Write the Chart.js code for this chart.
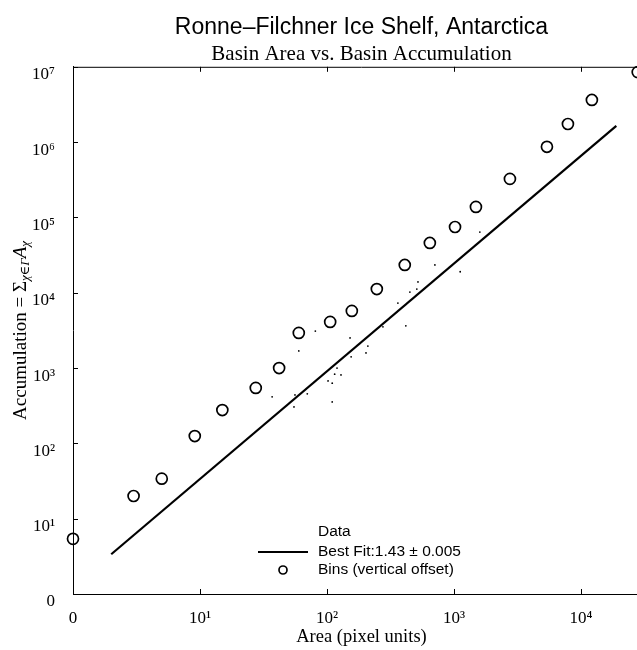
<!DOCTYPE html>
<html>
<head>
<meta charset="utf-8">
<script src="https://cdn.jsdelivr.net/npm/chart.js@4.4.1/dist/chart.umd.min.js"></script>
<style>
    html, body { margin: 0; padding: 0; background: #fff; overflow: hidden; }
    #wrap { width: 724px; height: 650px; }
</style>
</head>
<body>
<div id="wrap"><canvas id="chart" width="724" height="650"></canvas></div>
<script>
// Basin area vs. accumulation, Ronne-Filchner Ice Shelf
const binArea = [1, 3, 5, 9.1, 15, 27.5, 42, 60, 106, 157, 247, 410, 646, 1020, 1490, 2760, 5400, 7900, 12200, 28000];
const binAccum = [5.4, 20, 34, 125, 277, 545, 1000, 2930, 4100, 5740, 11200, 23400, 45800, 74600, 138000, 325000, 866000, 1740000, 3630000, 8500000];

const dataArea = [37, 55, 56, 60, 70, 81, 102, 110, 110, 115, 120, 129, 152, 155, 203, 210, 276, 362, 418, 450, 510, 521, 708, 1120, 1600];
const dataAccum = [415, 305, 440, 1690, 455, 3100, 675, 630, 355, 830, 1000, 810, 2510, 1410, 1590, 1960, 3530, 7300, 3640, 10200, 11200, 13900, 23400, 19000, 64000];

// power-law fit: accumulation = fitScale * area ^ fitSlope
const fitSlope = 1.43;
const fitScale = 1.25;
const fitRange = [2, 19000];

const xTicks = [1, 10, 100, 1000, 10000];
const xTickLabels = ['0', '10¹', '10²', '10³', '10⁴'];
const yTicks = [1, 10, 100, 1000, 1e4, 1e5, 1e6, 1e7];
const yTickLabels = ['0', '10¹', '10²', '10³', '10⁴', '10⁵', '10⁶', '10⁷'];

const serif = '"Liberation Serif", "DejaVu Serif", serif';
const sans = '"Liberation Sans", Arial, sans-serif';

const toPoints = (xs, ys) => xs.map((x, i) => ({ x: x, y: ys[i] }));
const fitPoints = fitRange.map(x => ({ x: x, y: fitScale * Math.pow(x, fitSlope) }));

// inward ticks on left, bottom and top, plus the top border
const boxTicks = {
    id: 'boxTicks',
    afterDraw(chart) {
        const ctx = chart.ctx;
        const a = chart.chartArea;
        const xs = chart.scales.x, ys = chart.scales.y;
        ctx.save();
        ctx.strokeStyle = '#000';
        ctx.lineWidth = 1;
        ctx.beginPath();
        ctx.moveTo(a.left, a.top + 0.5);
        ctx.lineTo(a.right, a.top + 0.5);
        xTicks.forEach(v => {
            const px = Math.round(xs.getPixelForValue(v)) + 0.5;
            ctx.moveTo(px, a.bottom);
            ctx.lineTo(px, a.bottom - 5);
            ctx.moveTo(px, a.top);
            ctx.lineTo(px, a.top + 5);
        });
        yTicks.forEach(v => {
            const py = Math.round(ys.getPixelForValue(v)) + 0.5;
            ctx.moveTo(a.left, py);
            ctx.lineTo(a.left + 5, py);
        });
        ctx.stroke();
        ctx.restore();
    }
};

// rotated y-axis title with subscripts
const yTitle = {
    id: 'yTitle',
    afterDraw(chart) {
        const ctx = chart.ctx;
        const a = chart.chartArea;
        const parts = [
            { t: 'Accumulation = Σ', f: '19px ' + serif, dy: 0 },
            { t: 'χ∈Γ', f: 'italic 13px ' + serif, dy: 5 },
            { t: 'A', f: 'italic 19px ' + serif, dy: 0 },
            { t: 'χ', f: 'italic 13px ' + serif, dy: 5 }
        ];
        ctx.save();
        let total = 0;
        parts.forEach(p => { ctx.font = p.f; p.w = ctx.measureText(p.t).width; total += p.w; });
        ctx.translate(21, (a.top + a.bottom) / 2);
        ctx.rotate(-Math.PI / 2);
        ctx.fillStyle = '#000';
        ctx.textBaseline = 'middle';
        let x = -total / 2;
        parts.forEach(p => {
            ctx.font = p.f;
            ctx.fillText(p.t, x, p.dy);
            x += p.w;
        });
        ctx.restore();
    }
};

// legend box near the bottom of the plot
const boxLegend = {
    id: 'boxLegend',
    afterDraw(chart) {
        const ctx = chart.ctx;
        const a = chart.chartArea;
        const sets = chart.data.datasets;
        const textX = a.left + 245;
        const markX = a.left + 210;
        const rows = [a.bottom - 62, a.bottom - 42, a.bottom - 24];
        ctx.save();
        ctx.font = '15.5px ' + sans;
        ctx.fillStyle = '#000';
        ctx.strokeStyle = '#000';
        ctx.textBaseline = 'middle';
        sets.forEach((ds, i) => {
            const y = rows[i];
            if (ds.showLine) {
                ctx.lineWidth = ds.borderWidth;
                ctx.beginPath();
                ctx.moveTo(markX - 25, y);
                ctx.lineTo(markX + 25, y);
                ctx.stroke();
            } else if (ds.pointRadius > 2) {
                ctx.lineWidth = ds.borderWidth;
                ctx.beginPath();
                ctx.arc(markX, y, 4, 0, Math.PI * 2);
                ctx.stroke();
            }
            ctx.fillText(ds.label, textX, y);
        });
        ctx.restore();
    }
};

new Chart(document.getElementById('chart'), {
    type: 'scatter',
    data: {
        datasets: [
            {
                label: 'Data',
                data: toPoints(dataArea, dataAccum),
                pointRadius: 0.9,
                borderWidth: 0,
                backgroundColor: '#000',
                borderColor: '#000',
                showLine: false
            },
            {
                label: 'Best Fit:1.43 ± 0.005',
                data: fitPoints,
                showLine: true,
                pointRadius: 0,
                borderColor: '#000',
                borderWidth: 2.2
            },
            {
                label: 'Bins (vertical offset)',
                data: toPoints(binArea, binAccum),
                pointRadius: 5.5,
                pointStyle: 'circle',
                borderColor: '#000',
                backgroundColor: 'rgba(0,0,0,0)',
                borderWidth: 1.7,
                showLine: false,
                clip: false
            }
        ]
    },
    options: {
        responsive: false,
        animation: false,
        layout: { padding: { left: 0, right: 74, top: 0, bottom: 0 } },
        plugins: {
            legend: { display: false },
            tooltip: { enabled: false },
            title: {
                display: true,
                fullSize: false,
                text: 'Ronne–Filchner Ice Shelf, Antarctica',
                color: '#000',
                font: { family: sans, size: 23, weight: 'normal' },
                padding: { top: 14, bottom: 0 }
            },
            subtitle: {
                display: true,
                fullSize: false,
                text: 'Basin Area vs. Basin Accumulation',
                color: '#000',
                font: { family: serif, size: 21 },
                padding: { top: 0, bottom: 0 }
            }
        },
        scales: {
            x: {
                type: 'logarithmic',
                min: 1,
                max: 35000,
                grid: { display: false },
                border: { display: true, color: '#000', width: 1 },
                afterBuildTicks: s => { s.ticks = xTicks.map(v => ({ value: v })); },
                afterFit: s => { s.height = 56; },
                ticks: {
                    color: '#000',
                    font: { family: serif, size: 17 },
                    padding: 6,
                    autoSkip: false,
                    maxRotation: 0,
                    callback: v => xTickLabels[xTicks.indexOf(v)]
                },
                title: {
                    display: true,
                    text: 'Area (pixel units)',
                    color: '#000',
                    font: { family: serif, size: 18.5 },
                    padding: { top: 0, bottom: 2 }
                }
            },
            y: {
                type: 'logarithmic',
                min: 1,
                max: 1e7,
                grid: { display: false },
                border: { display: true, color: '#000', width: 1 },
                afterBuildTicks: s => { s.ticks = yTicks.map(v => ({ value: v })); },
                afterFit: s => { s.width = 73; },
                ticks: {
                    color: '#000',
                    font: { family: serif, size: 17 },
                    padding: 10,
                    labelOffset: 8,
                    autoSkip: false,
                    callback: v => yTickLabels[yTicks.indexOf(v)]
                }
            }
        }
    },
    plugins: [boxTicks, yTitle, boxLegend]
});
</script>
</body>
</html>
